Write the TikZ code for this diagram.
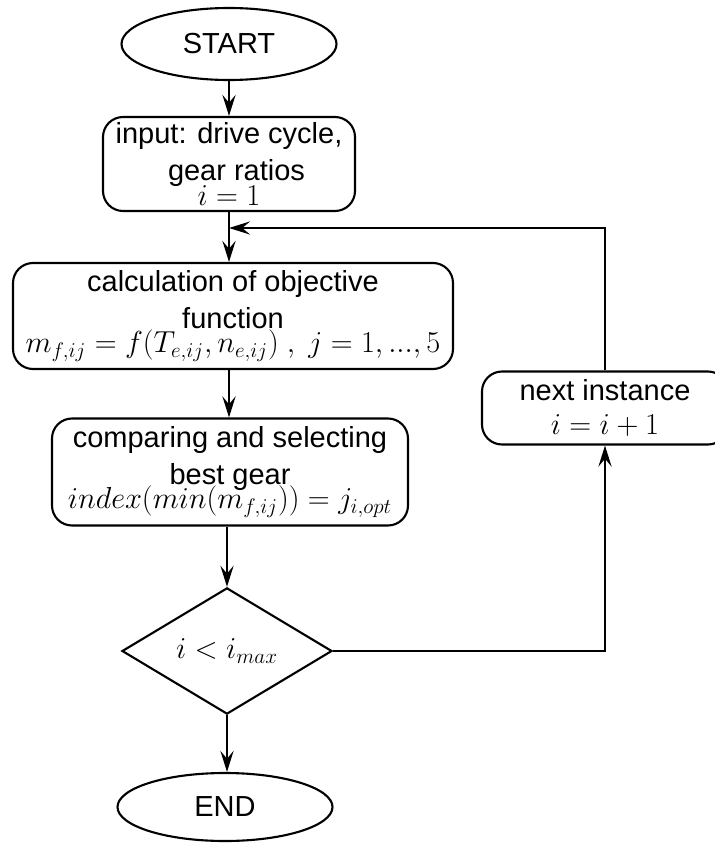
\documentclass[tikz,border=0pt]{standalone}
\usepackage{fontspec}
\setmainfont{Liberation Sans}
\usetikzlibrary{arrows.meta,shapes.geometric}

\begin{document}
\begin{tikzpicture}[>={Stealth[length=12pt,width=7.5pt,inset=4.5pt]},line width=1.2pt,
  every node/.style={font=\fontsize{16.5}{21}\selectfont,align=center,inner sep=0pt},
  terminal/.style={draw,ellipse,minimum width=4.3cm,minimum height=1.44cm},
  process/.style={draw,rounded corners=0.4cm},
  decision/.style={draw,diamond,minimum width=4.2cm,minimum height=2.44cm}]
\useasboundingbox (0,0) rectangle (14.3,-16.86);
% main column
\node[terminal] (start) at (4.58,-0.88) {START};
\node[process,minimum width=5.04cm,minimum height=1.88cm] (input) at (4.58,-3.28)
  {input: drive cycle,\\ \hspace*{0.3cm}gear ratios\\[-7pt] $i=1$};
\node[process,minimum width=8.8cm,minimum height=2.12cm] (calc) at (4.66,-6.32)
  {calculation of objective\\ function\hspace*{0.8cm}\\[-7pt] $m_{f,ij}=f(T_{e,ij},n_{e,ij})\ ,\ j=1,...,5$};
\node[process,minimum width=7.12cm,minimum height=2.14cm] (select) at (4.6,-9.44)
  {comparing and selecting\\ best gear\\[-7pt] $index(min(m_{f,ij}))=j_{i,opt}$};
\node[decision] (check) at (4.54,-13.02) {$i<i_{max}$};
\node[terminal,minimum height=1.36cm] (end) at (4.5,-16.14) {END};
% loop back
\node[process,minimum width=4.92cm,minimum height=1.46cm] (next) at (12.1,-8.16)
  {next instance\\[-2pt] $i=i+1$};
\coordinate (merge) at (4.58,-4.56);

\draw[->] (start.south) -- (input.north);
\draw[->] (input.south) -- (input.south |- calc.north);
\draw[->] (input.south |- calc.south) -- (input.south |- select.north);
\draw[->] (check.north |- select.south) -- (check.north);
\draw[->] (check.south) -- (check.south |- end.north);
\draw[->] (check.east) -| (next.south);
\draw[->] (next.north) |- (merge);
\end{tikzpicture}
\end{document}
